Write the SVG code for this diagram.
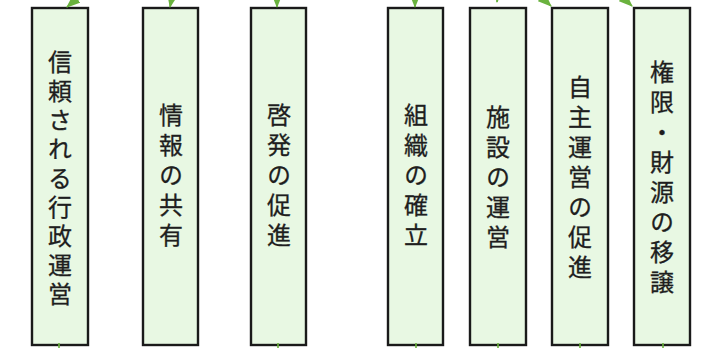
<svg xmlns="http://www.w3.org/2000/svg" width="713" height="348" viewBox="0 0 713 348">
<defs>
<marker id="ah" markerUnits="userSpaceOnUse" markerWidth="14" markerHeight="11" refX="13" refY="5.5" orient="auto">
<path d="M0,0 L14,5.5 L0,11 z" fill="#6ab23e"/>
</marker>
<style>
.box{fill:#e8f8e3;stroke:#1a1a1a;stroke-width:2.4}
.lbl{font-family:"Noto Sans CJK JP","Noto Sans CJK SC",sans-serif;font-size:24px;fill:#1e1e1e;stroke:#1e1e1e;stroke-width:0.3;writing-mode:vertical-rl;text-anchor:middle;letter-spacing:6px}
.c{stroke:#6ab23e;stroke-width:1.6;fill:none}
</style>
</defs>
<rect width="713" height="348" fill="#fff"/>
<g id="n1"><rect class="box" x="32" y="8" width="56" height="337"/><text class="lbl" x="60" y="180" style="letter-spacing:5px">信頼される行政運営</text></g>
<g id="n2"><rect class="box" x="143" y="8" width="55" height="337"/><text class="lbl" x="171" y="178">情報の共有</text></g>
<g id="n3"><rect class="box" x="251" y="8" width="55" height="337"/><text class="lbl" x="279" y="178">啓発の促進</text></g>
<g id="n4"><rect class="box" x="388" y="8" width="55" height="337"/><text class="lbl" x="416" y="178">組織の確立</text></g>
<g id="n5"><rect class="box" x="470" y="8" width="56" height="337"/><text class="lbl" x="498" y="180">施設の運営</text></g>
<g id="n6"><rect class="box" x="552" y="8" width="56" height="337"/><text class="lbl" x="580" y="180">自主運営の促進</text></g>
<g id="n7"><rect class="box" x="634" y="8" width="56" height="337"/><text class="lbl" x="662" y="180">権限・財源の移譲</text></g>
<g id="connectors">
<line class="c" x1="84" y1="-8" x2="67" y2="7" marker-end="url(#ah)"/>
<line class="c" x1="173" y1="-8" x2="170" y2="7" marker-end="url(#ah)"/>
<line class="c" x1="277" y1="-8" x2="277" y2="7" marker-end="url(#ah)"/>
<line class="c" x1="415" y1="-8" x2="415" y2="7" marker-end="url(#ah)"/>
<line class="c" x1="499" y1="-14" x2="497" y2="2" marker-end="url(#ah)"/>
<line class="c" x1="536" y1="-8" x2="551" y2="6" marker-end="url(#ah)"/>
<line class="c" x1="617" y1="-8" x2="632" y2="6" marker-end="url(#ah)"/>
<line class="c" x1="59" y1="343" x2="59" y2="348"/>
<line class="c" x1="278" y1="343" x2="278" y2="348"/>
<line class="c" x1="416" y1="343" x2="416" y2="348"/>
<line class="c" x1="498" y1="343" x2="498" y2="348"/>
<line class="c" x1="580" y1="343" x2="580" y2="348"/>
<line class="c" x1="663" y1="343" x2="663" y2="348"/>
</g>
</svg>
